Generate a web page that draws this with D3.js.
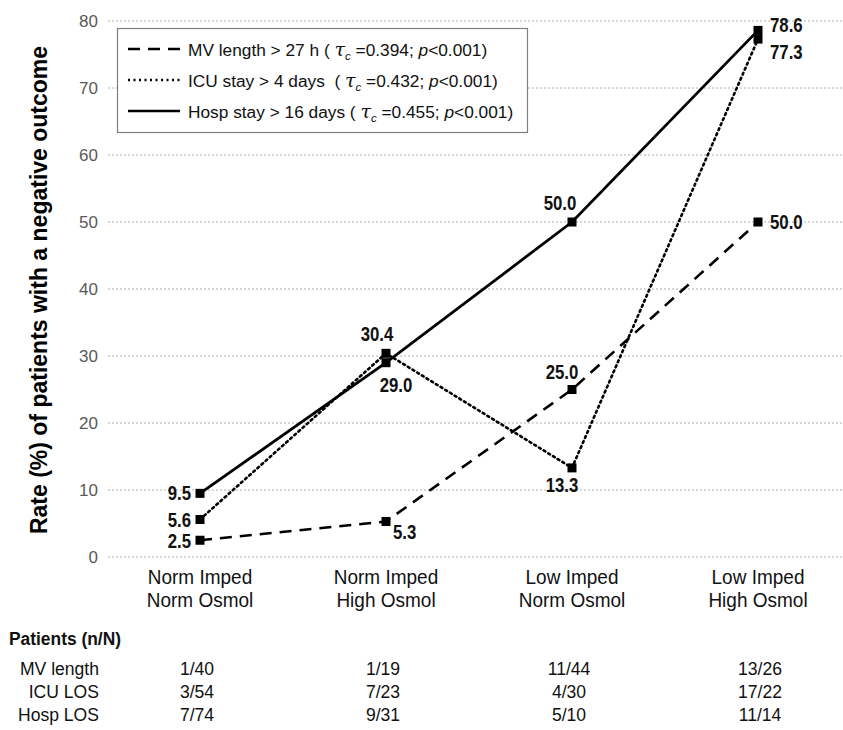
<!DOCTYPE html>
<html>
<head>
<meta charset="utf-8">
<script src="https://cdn.jsdelivr.net/npm/d3@7"></script>
<style>
  html, body { margin: 0; padding: 0; background: #fff; }
  svg { display: block; }
  text { font-family: "Liberation Sans", Arial, sans-serif; }
</style>
</head>
<body>
<svg id="chart" width="843" height="730"></svg>
<script>
// ---------------- DATA ----------------
const categories = [
  ["Norm Imped", "Norm Osmol"],
  ["Norm Imped", "High Osmol"],
  ["Low Imped", "Norm Osmol"],
  ["Low Imped", "High Osmol"]
];
const categoryKeys = ["NN", "NH", "LN", "LH"];
const mvValues   = [2.5, 5.3, 25.0, 50.0];
const icuValues  = [5.6, 30.4, 13.3, 77.3];
const hospValues = [9.5, 29.0, 50.0, 78.6];
const yTicks = [0, 10, 20, 30, 40, 50, 60, 70, 80];
const seriesNames = ["MV length > 27 h ( ", "ICU stay > 4 days  ( ", "Hosp stay > 16 days ( "];
const tauValues = ["0.394", "0.432", "0.455"];
const pValues = ["0.001", "0.001", "0.001"];
const tableTitle = "Patients (n/N)";
const tableRowLabels = ["MV length", "ICU LOS", "Hosp LOS"];
const tableMV   = ["1/40", "1/19", "11/44", "13/26"];
const tableICU  = ["3/54", "7/23", "4/30", "17/22"];
const tableHosp = ["7/74", "9/31", "5/10", "11/14"];
const yTitle = "Rate (%) of patients with a negative outcome";

// ---------------- LAYOUT ----------------
const svg = d3.select("#chart");
const x = d3.scalePoint().domain(categoryKeys).range([200, 758]);
const y = d3.scaleLinear().domain([0, 80]).range([557, 21]);
const gridLeft = 108, gridRight = 843;
const NARROW = 0.84;

// helper: place text at (px,py) with horizontal compression
function placeText(sel, px, py, sx) {
  return sel.attr("x", 0).attr("y", 0)
    .attr("transform", `translate(${px},${py}) scale(${sx},1)`);
}

// gridlines
svg.append("g").selectAll("line").data(yTicks).join("line")
  .attr("x1", gridLeft).attr("x2", gridRight)
  .attr("y1", d => y(d)).attr("y2", d => y(d))
  .attr("stroke", "#b0b0b0").attr("stroke-width", 1).attr("stroke-dasharray", "2,2");

// y axis tick labels
const yAxis = d3.axisLeft(y).tickValues(yTicks).tickSize(0).tickPadding(0);
const yg = svg.append("g").attr("transform", `translate(${gridLeft - 10},0)`).call(yAxis);
yg.select(".domain").remove();
yg.selectAll("text").attr("font-size", 17).attr("fill", "#595959")
  .attr("font-family", "Liberation Sans, Arial, sans-serif");

// y title
svg.append("text")
  .attr("transform", `translate(47,${(y(0) + y(80)) / 2 + 1}) rotate(-90)`)
  .attr("text-anchor", "middle").attr("font-size", 23).attr("font-weight", "bold")
  .attr("fill", "#000").text(yTitle);

// category labels (two lines each)
categories.forEach((lines, i) => {
  lines.forEach((ln, j) => {
    const t = svg.append("text").attr("text-anchor", "middle")
      .attr("font-size", 20).attr("fill", "#111").text(ln);
    placeText(t, x(categoryKeys[i]), 584 + j * 23, 0.95);
  });
});

// series
const series = [
  { name: "mv", values: mvValues, dash: "12,8", width: 2.6 },
  { name: "icu", values: icuValues, dash: "2,3.5", width: 2.6 },
  { name: "hosp", values: hospValues, dash: null, width: 2.8 }
];
// label placement: [anchor, dx, dy]
const placement = {
  mv:   [["end", -9, 1], ["start", 7, 10], ["middle", -10, -18], ["start", 12, 0]],
  icu:  [["end", -9, 0], ["middle", -9, -19], ["middle", -10, 17], ["start", 12, 13]],
  hosp: [["end", -9, 0], ["middle", 10, 22], ["middle", -12, -19], ["start", 12, -5]]
};

const line = d3.line().x((d, i) => x(categoryKeys[i])).y(d => y(d));
series.forEach(s => {
  svg.append("path").datum(s.values)
    .attr("d", line).attr("fill", "none").attr("stroke", "#000")
    .attr("stroke-width", s.width)
    .attr("stroke-dasharray", s.dash)
    .attr("stroke-linecap", s.name === "icu" ? "round" : "butt");
});
series.forEach(s => {
  svg.append("g").selectAll("rect").data(s.values).join("rect")
    .attr("x", (d, i) => x(categoryKeys[i]) - 4.5)
    .attr("y", d => y(d) - 4.5)
    .attr("width", 9).attr("height", 9).attr("fill", "#000");
});
series.forEach(s => {
  s.values.forEach((d, i) => {
    const p = placement[s.name][i];
    const t = svg.append("text")
      .attr("text-anchor", p[0])
      .attr("dominant-baseline", "central")
      .attr("font-size", 20).attr("font-weight", "bold").attr("fill", "#111")
      .text(d.toFixed(1));
    placeText(t, x(categoryKeys[i]) + p[1], y(d) + p[2], NARROW);
  });
});

// legend
const lg = svg.append("g");
lg.append("rect").attr("x", 117.5).attr("y", 28.5).attr("width", 410).attr("height", 104)
  .attr("fill", "#fff").attr("stroke", "#7f7f7f").attr("stroke-width", 1.2);
const legDash = ["12,8", "2,3.5", null];
const legY = [49, 80, 111];
seriesNames.forEach((nm, i) => {
  lg.append("line").attr("x1", 128).attr("x2", 180).attr("y1", legY[i]).attr("y2", legY[i])
    .attr("stroke", "#000").attr("stroke-width", 2.6)
    .attr("stroke-dasharray", legDash[i]);
  const t = lg.append("text").attr("x", 188).attr("y", legY[i] + 6.5)
    .attr("font-size", 17.3).attr("fill", "#111").style("white-space", "pre");
  t.append("tspan").text(nm);
  t.append("tspan").attr("font-family", "DejaVu Serif, serif").attr("font-style", "italic")
    .attr("font-size", 19).text("τ");
  t.append("tspan").attr("font-style", "italic").attr("font-size", 11.5).attr("dy", 4).text("c");
  t.append("tspan").attr("dy", -4).text(" =" + tauValues[i] + "; ");
  t.append("tspan").attr("font-style", "italic").text("p");
  t.append("tspan").text("<" + pValues[i] + ")");
});

// table
svg.append("text").attr("x", 9).attr("y", 645)
  .attr("font-size", 18).attr("font-weight", "bold").attr("fill", "#111")
  .attr("textLength", 112).attr("lengthAdjust", "spacingAndGlyphs").text(tableTitle);
const tableVals = [tableMV, tableICU, tableHosp];
const rowY = [675, 698, 721];
tableRowLabels.forEach((lbl, r) => {
  const t = svg.append("text").attr("text-anchor", "end")
    .attr("font-size", 18.5).attr("fill", "#111").text(lbl);
  placeText(t, 99, rowY[r], 0.95);
  tableVals[r].forEach((v, i) => {
    const tv = svg.append("text").attr("text-anchor", "middle")
      .attr("font-size", 18.5).attr("fill", "#111").text(v);
    placeText(tv, x(categoryKeys[i]) - 3 + (i === 3 ? 5 : 0), rowY[r], 0.95);
  });
});
</script>
</body>
</html>
